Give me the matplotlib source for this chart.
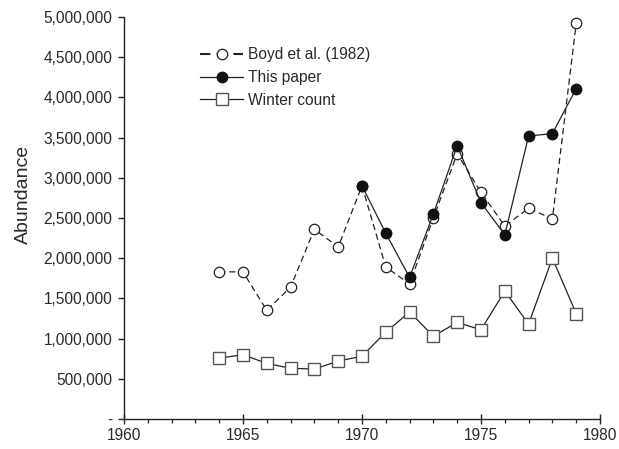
import matplotlib
matplotlib.use('Agg')
import matplotlib.pyplot as plt
from matplotlib.ticker import FuncFormatter, MultipleLocator

plt.rcParams['font.family'] = ['Liberation Sans', 'DejaVu Sans']

# Population estimates by year
boyd_years = [1964, 1965, 1966, 1967, 1968, 1969, 1970, 1971, 1972,
              1973, 1974, 1975, 1976, 1977, 1978, 1979]
boyd = [1830000, 1830000, 1350000, 1640000, 2360000, 2140000, 2900000, 1890000,
        1680000, 2500000, 3300000, 2820000, 2400000, 2620000, 2490000, 4920000]

paper_years = [1970, 1971, 1972, 1973, 1974, 1975, 1976, 1977, 1978, 1979]
paper = [2900000, 2310000, 1760000, 2550000, 3400000, 2690000, 2290000,
         3520000, 3550000, 4110000]

winter_years = [1964, 1965, 1966, 1967, 1968, 1969, 1970, 1971, 1972,
                1973, 1974, 1975, 1976, 1977, 1978, 1979]
winter = [755000, 800000, 690000, 630000, 620000, 720000, 780000, 1080000,
          1330000, 1030000, 1200000, 1110000, 1590000, 1180000, 2000000, 1310000]

fig = plt.figure(figsize=(6.19, 4.49), dpi=100)
ax = fig.add_axes([0.2003, 0.067, 0.769, 0.895])

line_col = '#222222'
text_col = '#2a2a2a'
ax.plot(boyd_years, boyd, color=line_col, lw=0.9, dashes=(5, 3),
        marker='o', ms=7.5, mfc='white', mec=line_col, mew=0.9,
        label='Boyd et al. (1982)', zorder=3)
ax.plot(paper_years, paper, color=line_col, lw=0.9, marker='o', ms=7.5,
        mfc='#111111', mec='#111111', label='This paper', zorder=4)
ax.plot(winter_years, winter, color=line_col, lw=0.9, marker='s', ms=8,
        mfc='white', mec='#555555', mew=1.0, label='Winter count', zorder=3)

ax.set_xlim(1960, 1980)
ax.set_ylim(0, 5000000)
ax.xaxis.set_major_locator(MultipleLocator(5))
ax.xaxis.set_minor_locator(MultipleLocator(1))
ax.yaxis.set_major_locator(MultipleLocator(500000))
ax.yaxis.set_major_formatter(FuncFormatter(lambda v, p: '-' if v == 0 else f'{int(v):,}'))

ax.spines['top'].set_visible(False)
ax.spines['right'].set_visible(False)
for s in ('left', 'bottom'):
    ax.spines[s].set_linewidth(1.0)
    ax.spines[s].set_color('#222222')

ax.tick_params(axis='x', which='major', direction='inout', length=7, width=1.0,
               labelsize=11.2, colors='#222222', labelcolor=text_col, pad=3)
ax.tick_params(axis='x', which='minor', direction='out', length=3, width=0.9,
               colors='#222222')
ax.tick_params(axis='y', direction='out', length=4.3, width=1.0,
               labelsize=11.2, colors='#222222', labelcolor=text_col, pad=4)

ax.set_ylabel('Abundance', fontsize=14, color=text_col)
ax.yaxis.set_label_coords(-0.193, 0.559)

leg = ax.legend(loc='upper left', bbox_to_anchor=(0.16, 0.925), frameon=False,
                fontsize=11.2, handlelength=2.76, handletextpad=0.32,
                labelspacing=0.5, borderaxespad=0, borderpad=0,
                labelcolor=text_col)
# heavier dashes on the legend sample
leg.get_lines()[0].set_linewidth(1.5)

fig.savefig('out.png', dpi=100)
